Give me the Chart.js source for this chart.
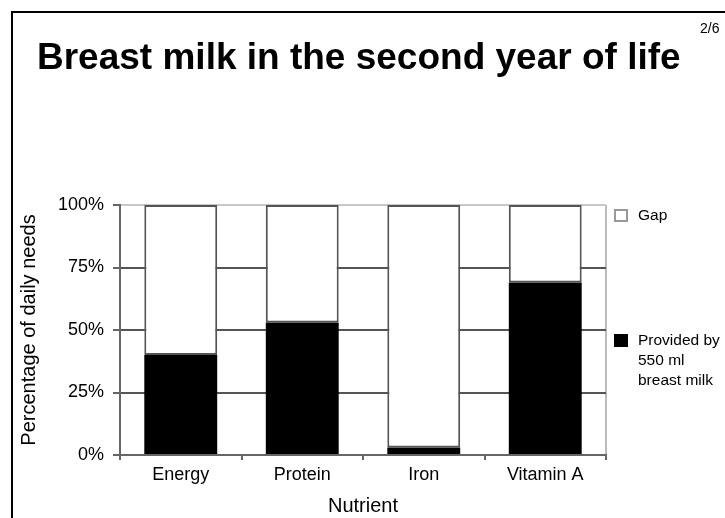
<!DOCTYPE html>
<html>
<head>
<meta charset="utf-8">
<script src="https://cdn.jsdelivr.net/npm/chart.js@4.4.1/dist/chart.umd.min.js"></script>
<style>
    body { margin: 0; background: #fff; font-family: "Liberation Sans", Arial, sans-serif; }
    #slide { position: relative; width: 725px; height: 518px; overflow: hidden; }
    #frame { position: absolute; left: 11px; top: 11px; right: -5px; bottom: -5px; border-left: 2px solid #000; border-top: 2px solid #000; }
    #title { position: absolute; left: 37px; top: 36px; font-size: 37px; font-weight: bold; color: #000; white-space: nowrap; }
    #page { position: absolute; left: 700px; top: 20px; font-size: 14px; color: #000; }
    canvas { position: absolute; left: 0; top: 0; }
</style>
</head>
<body>
<div id="slide">
    <canvas id="milkChart" width="725" height="518"></canvas>
    <div id="frame"></div>
    <div id="title">Breast milk in the second year of life</div>
    <div id="page">2/6</div>
</div>
<script>
// Chart data
const nutrients = ['Energy', 'Protein', 'Iron', 'Vitamin A'];
const provided = [40, 53, 3, 69];
const gap = [60, 47, 97, 31];
const yTicks = [0, 25, 50, 75, 100];
const providedLabel = ['Provided by', '550 ml', 'breast milk'];
const gapLabel = ['Gap'];

// Legend drawn at the right side, next to the plot
const sideLegend = {
    id: 'sideLegend',
    afterDraw(chart) {
        const ctx = chart.ctx;
        const y = chart.scales.y;
        const x0 = chart.chartArea.right + 8;
        const items = [
            { lines: gapLabel, at: 96, fill: '#fff', stroke: '#999' },
            { lines: providedLabel, at: 46, fill: '#000', stroke: '#000' }
        ];
        ctx.save();
        ctx.font = '15.5px "Liberation Sans", Arial, sans-serif';
        ctx.fillStyle = '#000';
        ctx.textBaseline = 'middle';
        items.forEach(item => {
            const yy = y.getPixelForValue(item.at);
            ctx.fillStyle = item.fill;
            ctx.fillRect(x0, yy - 6, 14, 13);
            ctx.strokeStyle = item.stroke;
            ctx.lineWidth = 2;
            ctx.strokeRect(x0 + 1, yy - 5, 12, 11);
            ctx.fillStyle = '#000';
            item.lines.forEach((line, i) => {
                ctx.fillText(line, x0 + 24, yy + 1 + i * 20);
            });
        });
        ctx.restore();
    }
};

Chart.defaults.font.family = '"Liberation Sans", Arial, sans-serif';
Chart.defaults.color = '#000';

new Chart(document.getElementById('milkChart').getContext('2d'), {
    type: 'bar',
    data: {
        labels: nutrients,
        datasets: [
            {
                label: providedLabel.join(' '),
                data: provided,
                backgroundColor: '#000',
                borderColor: '#000',
                borderWidth: 0,
                barPercentage: 0.6,
                categoryPercentage: 1.0
            },
            {
                label: gapLabel[0],
                data: gap,
                backgroundColor: '#fff',
                borderColor: '#555',
                borderWidth: 2,
                borderSkipped: false,
                barPercentage: 0.6,
                categoryPercentage: 1.0
            }
        ]
    },
    options: {
        responsive: false,
        animation: false,
        layout: { padding: { top: 205, right: 119, left: 0, bottom: 0 } },
        plugins: {
            legend: { display: false },
            tooltip: { enabled: false }
        },
        scales: {
            x: {
                stacked: true,
                afterFit: s => { s.height = 63; },
                border: { color: '#666', width: 2 },
                grid: {
                    offset: true,
                    drawOnChartArea: true,
                    color: c => c.type === 'scale' ? '#bbb' : 'rgba(0,0,0,0)',
                    tickColor: '#666',
                    tickLength: 5,
                    lineWidth: 2
                },
                ticks: { font: { size: 18 }, padding: 4 },
                title: { display: true, text: 'Nutrient', font: { size: 20 }, padding: { top: 0, bottom: 0 } }
            },
            y: {
                stacked: true,
                min: 0,
                max: 100,
                afterFit: s => { s.width = 120; },
                afterBuildTicks: s => { s.ticks = yTicks.map(v => ({ value: v })); },
                border: { color: '#666', width: 2 },
                grid: {
                    color: c => c.tick && c.tick.value === 100 ? '#c8c8c8' : (c.tick && c.tick.value === 0 ? 'rgba(0,0,0,0)' : '#555'),
                    tickColor: '#666',
                    tickLength: 7,
                    lineWidth: 2
                },
                ticks: { font: { size: 18 }, padding: 9, callback: v => v + '%' },
                title: { display: true, text: 'Percentage of daily needs', font: { size: 20 }, padding: { top: 17, bottom: 0 } }
            }
        }
    },
    plugins: [sideLegend]
});
</script>
</body>
</html>
